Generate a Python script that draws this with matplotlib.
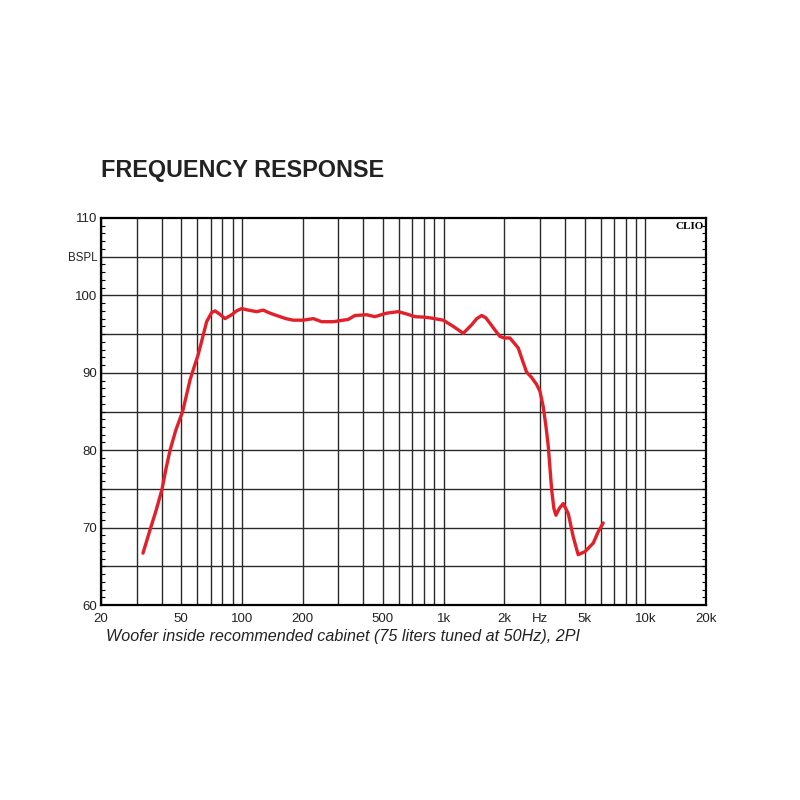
import matplotlib.pyplot as plt
from matplotlib.ticker import FixedLocator, NullFormatter

# frequency response (Hz, dB)
freq = [32.3, 35.0, 37.5, 40.1, 42.0, 44.0, 47.0, 50.8, 55.3, 58.0, 60.6,
        63.0, 66.8, 70.8, 73.5, 77.8, 82.4, 88.9, 94.0, 99.7, 107.5, 118.3,
        127.6, 135, 143, 154.4, 165, 179.7, 201, 225.7, 248.6, 283.8, 336.7,
        363, 415, 456, 521, 595.5, 655.7, 721, 792.6, 855.6, 995, 1116, 1251,
        1377, 1460, 1543, 1620, 1697, 1800, 1902, 2000, 2132, 2345, 2460, 2577,
        2730, 2890, 3005, 3119, 3220, 3303, 3433, 3520, 3605, 3750, 3920,
        4151, 4393, 4647, 5024, 5520, 5849, 6184]
spl = [66.7, 69.7, 72.2, 74.9, 77.6, 80.0, 82.6, 85.0, 89.1, 90.8, 92.3,
       94.0, 96.6, 97.8, 98.0, 97.55, 97.0, 97.5, 98.0, 98.3, 98.1, 97.9,
       98.1, 97.8, 97.55, 97.25, 97.0, 96.8, 96.8, 97.0, 96.6, 96.6, 96.9,
       97.4, 97.5, 97.25, 97.7, 97.9, 97.6, 97.25, 97.2, 97.1, 96.8, 96.0, 95.1,
       96.2, 97.0, 97.4, 97.1, 96.4, 95.5, 94.7, 94.5, 94.5, 93.2, 91.6, 90.1,
       89.4, 88.5, 87.6, 85.6, 83.0, 80.5, 74.9, 72.5, 71.6, 72.5, 73.1,
       71.8, 68.8, 66.5, 66.9, 68.0, 69.5, 70.6]

x_grid = [20, 30, 40, 50, 60, 70, 80, 90, 100, 200, 300, 400, 500, 600, 700,
          800, 900, 1000, 2000, 3000, 4000, 5000, 6000, 7000, 8000, 9000,
          10000, 20000]
x_ticks = [20, 50, 100, 200, 500, 1000, 2000, 3000, 5000, 10000, 20000]
x_labels = ["20", "50", "100", "200", "500", "1k", "2k", "Hz", "5k", "10k", "20k"]
y_ticks = [60, 70, 80, 90, 100, 105, 110]
y_labels = ["60", "70", "80", "90", "100", "BSPL", "110"]

plt.rcParams['font.family'] = ['Liberation Sans', 'DejaVu Sans']

fig = plt.figure(figsize=(8, 8), dpi=100)
ax = fig.add_axes([101 / 800, 1 - 605 / 800, 605 / 800, 387 / 800])

for f in x_grid:
    ax.axvline(f, color="#2a2a2a", lw=1.0, zorder=1)
for db in range(65, 110, 5):
    ax.axhline(db, color="#2a2a2a", lw=1.0, zorder=1)

ax.plot(freq, spl, color="#e3202a", lw=2.4, solid_capstyle="round",
        solid_joinstyle="round", zorder=3)

ax.set_xscale("log")
ax.set_xlim(20, 20000)
ax.set_ylim(60, 110)

ax.xaxis.set_major_locator(FixedLocator(x_ticks))
ax.xaxis.set_minor_locator(FixedLocator([]))
ax.xaxis.set_minor_formatter(NullFormatter())
ax.set_xticklabels(x_labels)
ax.tick_params(axis="x", which="major", length=0, pad=6, labelsize=9.5,
               labelcolor="#222222")

ax.set_yticks(y_ticks)
ax.set_yticklabels(y_labels)
ax.yaxis.set_minor_locator(FixedLocator(range(60, 111)))
ax.tick_params(axis="y", which="major", length=0, pad=2.5, labelsize=9.5,
               labelcolor="#222222")
ax.tick_params(axis="y", which="minor", direction="in", length=3, width=0.8,
               left=True, right=True)
for lbl in ax.get_yticklabels():
    if lbl.get_text() == "BSPL":
        lbl.set_fontsize(8.3)

for s in ax.spines.values():
    s.set_linewidth(1.6)
    s.set_color("black")

ax.text(0.997, 0.99, "CLIO", transform=ax.transAxes, ha="right", va="top",
        fontsize=8, fontweight="bold", family="Liberation Serif", zorder=4)

fig.text(101 / 800, 1 - 170 / 800, "FREQUENCY RESPONSE", fontsize=16.8,
         fontweight="bold", ha="left", va="center", color="#222222")
fig.text(106 / 800, 1 - 637 / 800,
         "Woofer inside recommended cabinet (75 liters tuned at 50Hz), 2PI",
         fontsize=11.6, style="italic", ha="left", va="center", color="#222222")

fig.savefig("out.png", dpi=100)
